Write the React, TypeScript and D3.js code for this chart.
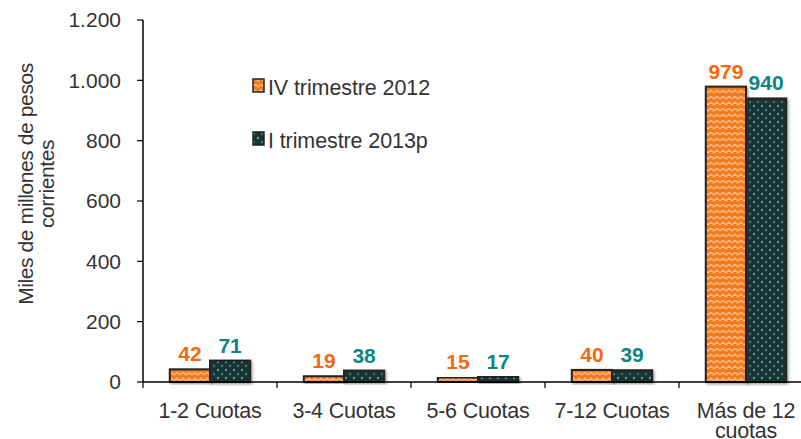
import { useEffect, useRef } from "react"
import * as d3 from "d3"

const categories = ["1-2 Cuotas", "3-4 Cuotas", "5-6 Cuotas", "7-12 Cuotas", "Más de 12 cuotas"]
const seriesNames = ["IV trimestre 2012", "I trimestre 2013p"]
const iv2012 = [42, 19, 15, 40, 979]
const i2013 = [71, 38, 17, 39, 940]
const yTicks = [0, 200, 400, 600, 800, 1000, 1200]

const W = 801
const H = 439

export default function App() {
  const svgRef = useRef<SVGSVGElement>(null)

  useEffect(() => {
    if (!svgRef.current) return
    const svg = d3.select(svgRef.current)
    svg.selectAll("*").remove()

    const left = 143
    const top = 20
    const bottom = 382
    const font = "'Liberation Sans', Arial, sans-serif"

    // patterns + soft shadow
    const defs = svg.append("defs")
    const pOr = defs.append("pattern").attr("id", "pOrange").attr("patternUnits", "userSpaceOnUse")
      .attr("width", 12).attr("height", 12)
    pOr.append("rect").attr("width", 12).attr("height", 12).attr("fill", "#f07a1c")
    pOr.append("path").attr("d", "M0,3 L3,0 L6,3 L9,0 L12,3 M0,9 L3,6 L6,9 L9,6 L12,9")
      .attr("stroke", "#ffb47a").attr("stroke-width", 1.5).attr("fill", "none")
    const pTe = defs.append("pattern").attr("id", "pTeal").attr("patternUnits", "userSpaceOnUse")
      .attr("width", 8).attr("height", 8)
    pTe.append("rect").attr("width", 8).attr("height", 8).attr("fill", "#1e3232")
    pTe.append("circle").attr("cx", 2).attr("cy", 2).attr("r", 1.2).attr("fill", "#3fa7a7")
    pTe.append("circle").attr("cx", 6).attr("cy", 6).attr("r", 1.2).attr("fill", "#2d7c7c")
    const shadow = defs.append("filter").attr("id", "shadow").attr("x", "-10%").attr("y", "-10%")
      .attr("width", "130%").attr("height", "130%")
    shadow.append("feDropShadow").attr("dx", 1.5).attr("dy", 1.5).attr("stdDeviation", 1.2)
      .attr("flood-color", "#000").attr("flood-opacity", 0.35)

    const x = d3.scaleBand().domain(categories).range([left, left + 5 * 134]).paddingInner(0.4).paddingOuter(0.2)
    const x1 = d3.scaleBand().domain(seriesNames).range([0, x.bandwidth()])
    const y = d3.scaleLinear().domain([0, 1200]).range([bottom, top])

    const fills = ["url(#pOrange)", "url(#pTeal)"]
    const labelColors = ["#f7680f", "#0d8583"]
    const series = [iv2012, i2013]

    // y axis
    svg.append("line").attr("x1", left).attr("x2", left).attr("y1", top).attr("y2", bottom)
      .attr("stroke", "#000").attr("stroke-width", 1.5)
    yTicks.forEach(t => {
      svg.append("line").attr("x1", left - 6).attr("x2", left).attr("y1", y(t)).attr("y2", y(t))
        .attr("stroke", "#000").attr("stroke-width", 1.2)
      svg.append("text").attr("x", 121).attr("y", y(t)).attr("dy", "0.35em")
        .attr("text-anchor", "end").attr("font-family", font).attr("font-size", 21)
        .attr("fill", "#333").text(d3.format(",")(t).replace(/,/g, "."))
    })

    // bars
    categories.forEach((c, ci) => {
      series.forEach((s, si) => {
        const bx = (x(c) as number) + (x1(seriesNames[si]) as number)
        const v = s[ci]
        svg.append("rect").attr("x", bx).attr("y", y(v)).attr("width", x1.bandwidth())
          .attr("height", bottom - y(v)).attr("fill", fills[si])
          .attr("stroke", "#222").attr("stroke-width", 2).attr("filter", "url(#shadow)")
        svg.append("text").attr("x", bx + x1.bandwidth() / 2).attr("y", y(v) - 8)
          .attr("text-anchor", "middle").attr("font-family", font).attr("font-weight", "bold")
          .attr("font-size", 21).attr("fill", labelColors[si]).text(v)
      })
    })

    // x axis
    svg.append("line").attr("x1", left).attr("x2", W).attr("y1", bottom).attr("y2", bottom)
      .attr("stroke", "#000").attr("stroke-width", 1.5)
    categories.forEach((c, ci) => {
      const tx = left + ci * x.step()
      svg.append("line").attr("x1", tx).attr("x2", tx).attr("y1", bottom).attr("y2", bottom + 6)
        .attr("stroke", "#000").attr("stroke-width", 1.2)
      const cx = (x(c) as number) + x.bandwidth() / 2
      const lines = c === "Más de 12 cuotas" ? ["Más de 12", "cuotas"] : [c]
      lines.forEach((l, li) => {
        svg.append("text").attr("x", cx).attr("y", 418 + li * 20).attr("text-anchor", "middle")
          .attr("font-family", font).attr("font-size", 21.5).attr("letter-spacing", -0.2)
          .attr("fill", "#333").text(l)
      })
    })

    // y title
    const yt = svg.append("text").attr("transform", `translate(33, 184) rotate(-90)`)
      .attr("text-anchor", "middle").attr("font-family", font).attr("font-size", 21)
      .attr("letter-spacing", -0.4).attr("fill", "#333")
    yt.append("tspan").attr("x", 0).attr("dy", 0).text("Miles de millones de pesos")
    yt.append("tspan").attr("x", 0).attr("dy", 21).text("corrientes")

    // legend
    seriesNames.forEach((n, i) => {
      const ly = 95 + i * 53
      svg.append("rect").attr("x", 253).attr("y", ly - 16).attr("width", 11).attr("height", 13)
        .attr("fill", fills[i]).attr("stroke", "#222").attr("stroke-width", 1.5)
      svg.append("text").attr("x", 268).attr("y", ly)
        .attr("font-family", font).attr("font-size", 21.5).attr("letter-spacing", -0.1)
        .attr("fill", "#333").text(n)
    })
  }, [])

  return (
    <svg ref={svgRef} width={W} height={H}
      style={{ position: "fixed", top: 0, left: 0, background: "#fff" }} />
  )
}
